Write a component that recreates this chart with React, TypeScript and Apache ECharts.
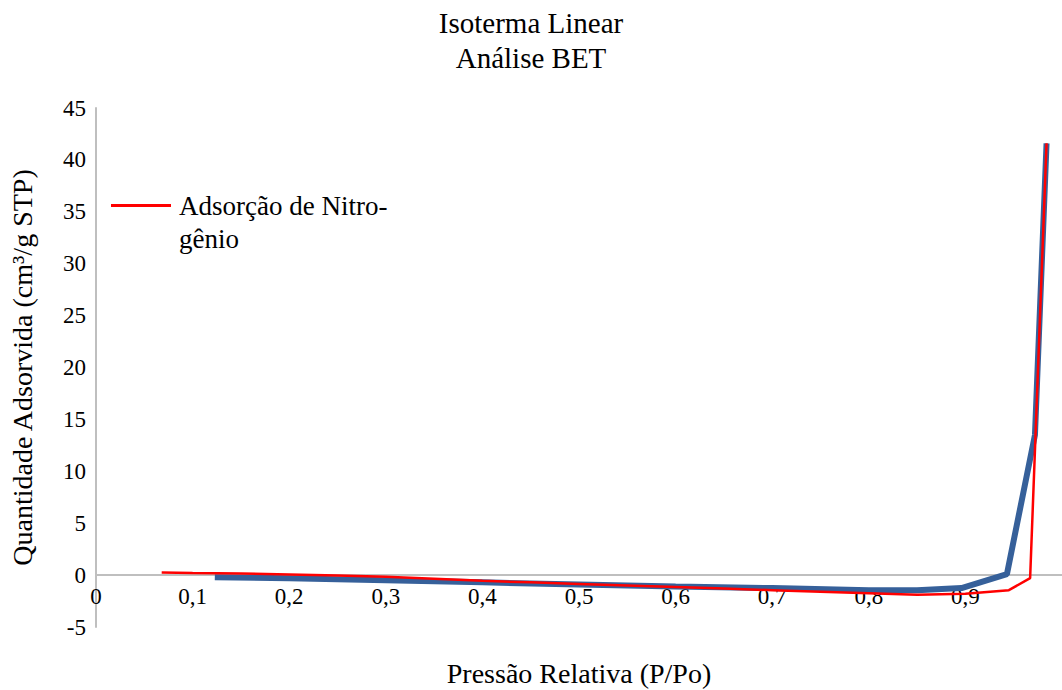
import React, { useEffect, useRef } from "react";
import * as echarts from "echarts";

const titleLines = ["Isoterma Linear", "Análise BET"];
const xAxisName = "Pressão Relativa (P/Po)";
const yAxisName = "Quantidade Adsorvida (cm³/g STP)";
const adsName = "Adsorção de Nitrogênio";
const adsLegendLines = ["", "Adsorção de Nitro-", "gênio"];
const desName = "Dessorção de Nitrogênio";

// Adsorption (red)
const adsX = [0.068, 0.1, 0.15, 0.2, 0.25, 0.3, 0.35, 0.4, 0.45, 0.5, 0.55, 0.6, 0.65, 0.7, 0.75, 0.8, 0.85, 0.9, 0.945, 0.967, 0.984];
const adsY = [0.25, 0.2, 0.15, 0.05, -0.05, -0.15, -0.35, -0.55, -0.7, -0.85, -1.0, -1.15, -1.3, -1.45, -1.6, -1.75, -1.9, -1.8, -1.45, -0.3, 41.6];

// Desorption (blue)
const desX = [0.123, 0.2, 0.3, 0.4, 0.5, 0.6, 0.7, 0.8, 0.85, 0.896, 0.943, 0.972, 0.984];
const desY = [-0.2, -0.3, -0.5, -0.7, -0.9, -1.1, -1.25, -1.45, -1.45, -1.25, 0.1, 13.5, 41.6];

const FONT = "Liberation Serif";

// y range
const Y_MIN = -5;
const Y_MAX = 45;
const GRID_TOP = 108;
const GRID_BOTTOM = 63;
const CHART_H = 690;

export default function App() {
  const ref = useRef<HTMLDivElement>(null);
  useEffect(() => {
    if (!ref.current) return;
    const chart = echarts.init(ref.current, undefined, { renderer: "svg" });
    const ads = adsX.map((x, i) => [x, adsY[i]]);
    const des = desX.map((x, i) => [x, desY[i]]);
    // Shift x-axis (line + labels + name) up to the y = 0 level.
    const plotH = CHART_H - GRID_TOP - GRID_BOTTOM;
    const zeroOffset = -Math.round(((0 - Y_MIN) / (Y_MAX - Y_MIN)) * plotH);
    chart.setOption({
      animation: false,
      backgroundColor: "#ffffff",
      title: {
        text: titleLines.join("\n"),
        left: "center",
        top: 0,
        textStyle: {
          fontFamily: FONT,
          fontSize: 29,
          fontWeight: "normal",
          color: "#000",
          lineHeight: 35,
        },
      },
      legend: {
        data: [adsName],
        left: 106,
        top: 151,
        orient: "vertical",
        icon: "rect",
        itemWidth: 60,
        itemHeight: 3,
        formatter: () => adsLegendLines.join("\n"),
        textStyle: {
          fontFamily: FONT,
          fontSize: 27,
          color: "#000",
          lineHeight: 33,
          padding: [0, 0, 0, 3],
        },
      },
      grid: { left: 96, right: 0, top: GRID_TOP, bottom: GRID_BOTTOM, containLabel: false, outerBoundsMode: "none" },
      xAxis: {
        type: "value",
        min: 0,
        max: 1,
        interval: 0.1,
        position: "bottom",
        offset: zeroOffset,
        name: xAxisName,
        nameLocation: "middle",
        nameGap: 84,
        nameTextStyle: { fontFamily: FONT, fontSize: 28, color: "#000" },
        axisLine: { onZero: false, lineStyle: { color: "#BFBFBF", width: 2 } },
        axisTick: { show: false },
        splitLine: { show: false },
        axisLabel: {
          fontFamily: FONT,
          fontSize: 23,
          color: "#000",
          margin: 10,
          showMaxLabel: false,
          formatter: (v: number) => (v === 0 ? "0" : v.toFixed(1).replace(".", ",")),
        },
      },
      yAxis: {
        type: "value",
        min: Y_MIN,
        max: Y_MAX,
        interval: 5,
        name: yAxisName,
        nameLocation: "middle",
        nameGap: 60,
        nameTextStyle: { fontFamily: FONT, fontSize: 28, color: "#000" },
        axisLine: { show: true, onZero: false, lineStyle: { color: "#BFBFBF", width: 2 } },
        axisTick: { show: false },
        splitLine: { show: false },
        axisLabel: { fontFamily: FONT, fontSize: 23, color: "#000", margin: 10 },
      },
      series: [
        {
          name: desName,
          type: "line",
          data: des,
          showSymbol: false,
          symbol: "none",
          lineStyle: { color: "#36609A", width: 6 },
          itemStyle: { color: "#36609A" },
          z: 2,
        },
        {
          name: adsName,
          type: "line",
          data: ads,
          showSymbol: false,
          symbol: "none",
          lineStyle: { color: "#FF0000", width: 2.5 },
          itemStyle: { color: "#FF0000" },
          z: 3,
        },
      ],
    });
    return () => chart.dispose();
  }, []);
  return (
    <div
      ref={ref}
      style={{ position: "fixed", left: 0, top: 0, width: 1062, height: 690, background: "#fff" }}
    />
  );
}
